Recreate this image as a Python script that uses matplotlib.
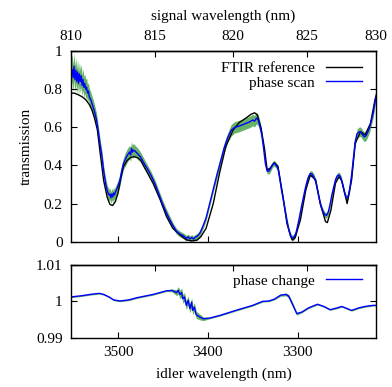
import numpy as np
import matplotlib
matplotlib.use('Agg')
import matplotlib.pyplot as plt
from matplotlib.ticker import FormatStrFormatter

plt.rcParams['font.family'] = ['Liberation Serif', 'DejaVu Serif']
plt.rcParams['font.size'] = 11

# pump wavelength (nm): 1/lp = 1/ls + 1/li
pump = 659.6

# FTIR reference (idler wavelength in nm, transmission)
ftir_idler = [3552, 3548, 3544, 3540, 3536, 3532, 3529, 3526, 3523, 3520,
              3516, 3512, 3509, 3506, 3503, 3500, 3497, 3494, 3490, 3486,
              3482, 3478, 3475, 3468, 3461, 3453, 3446, 3439, 3431, 3424,
              3418, 3412, 3408, 3402, 3394, 3387, 3380, 3372, 3365, 3358,
              3352, 3348, 3345, 3341, 3337, 3334, 3331, 3326, 3322, 3317,
              3312, 3308, 3306, 3303, 3297, 3291, 3286, 3280, 3275, 3269,
              3267, 3263, 3258, 3254, 3251, 3245, 3240, 3236, 3230, 3225,
              3219, 3214, 3212]
ftir_trans = [0.78, 0.778, 0.77, 0.76, 0.745, 0.72, 0.69, 0.645, 0.586, 0.47,
              0.32, 0.232, 0.195, 0.19, 0.21, 0.255, 0.33, 0.393, 0.425, 0.442,
              0.446, 0.44, 0.428, 0.367, 0.306, 0.219, 0.131, 0.07, 0.035, 0.01,
              0.004, 0.008, 0.025, 0.07, 0.2, 0.36, 0.5, 0.585, 0.625, 0.647,
              0.668, 0.676, 0.665, 0.6, 0.49, 0.376, 0.385, 0.414, 0.395, 0.254,
              0.096, 0.03, 0.009, 0.02, 0.114, 0.271, 0.35, 0.324, 0.2, 0.105,
              0.1, 0.166, 0.306, 0.341, 0.32, 0.2, 0.324, 0.516, 0.577, 0.56,
              0.62, 0.743, 0.78]

# phase scan (idler wavelength in nm, transmission, uncertainty)
scan_idler = [3552, 3551, 3550, 3549, 3548, 3547, 3546, 3545, 3544, 3543,
              3542, 3541, 3540, 3539, 3538, 3537, 3536, 3535, 3534, 3533,
              3532, 3530, 3528, 3526, 3524, 3522, 3520, 3518, 3516, 3514,
              3512, 3510, 3509, 3508, 3507, 3506, 3505, 3504, 3503, 3501,
              3498, 3496, 3494, 3492, 3490, 3488, 3487, 3486, 3485, 3484,
              3483, 3481, 3478, 3475, 3471, 3467, 3463, 3459, 3455, 3451,
              3447, 3443, 3439, 3435, 3431, 3427, 3424, 3422, 3420, 3418,
              3416, 3414, 3412, 3409, 3406, 3402, 3398, 3394, 3390, 3386,
              3382, 3378, 3374, 3370, 3366, 3362, 3358, 3354, 3350, 3348,
              3346, 3344, 3342, 3340, 3338, 3336, 3334, 3332, 3330, 3328,
              3326, 3324, 3322, 3320, 3318, 3316, 3314, 3312, 3310, 3308,
              3306, 3304, 3302, 3300, 3298, 3296, 3294, 3292, 3290, 3288,
              3286, 3284, 3282, 3280, 3278, 3276, 3274, 3272, 3270, 3268,
              3266, 3264, 3262, 3260, 3258, 3256, 3254, 3252, 3250, 3248,
              3246, 3244, 3242, 3240, 3238, 3236, 3234, 3232, 3230, 3228,
              3226, 3224, 3222, 3220, 3218, 3216, 3214, 3212]
scan_trans = [0.91, 0.90, 0.86, 0.92, 0.85, 0.90, 0.84, 0.89, 0.83, 0.88,
              0.84, 0.87, 0.82, 0.85, 0.81, 0.83, 0.80, 0.81, 0.78, 0.79,
              0.76, 0.74, 0.71, 0.68, 0.64, 0.58, 0.51, 0.45, 0.37, 0.31,
              0.265, 0.245, 0.25, 0.23, 0.25, 0.235, 0.255, 0.245, 0.26, 0.28,
              0.32, 0.37, 0.41, 0.43, 0.45, 0.465, 0.47, 0.455, 0.49, 0.47,
              0.48, 0.475, 0.46, 0.445, 0.41, 0.38, 0.345, 0.305, 0.255, 0.205,
              0.16, 0.12, 0.085, 0.055, 0.04, 0.03, 0.018, 0.025, 0.015, 0.022,
              0.014, 0.024, 0.028, 0.044, 0.075, 0.125, 0.2, 0.275, 0.35, 0.42,
              0.49, 0.545, 0.585, 0.6, 0.605, 0.612, 0.62, 0.627, 0.638, 0.632,
              0.648, 0.638, 0.605, 0.56, 0.49, 0.41, 0.37, 0.37, 0.385, 0.405,
              0.412, 0.40, 0.385, 0.33, 0.27, 0.22, 0.165, 0.11, 0.065, 0.032,
              0.018, 0.025, 0.045, 0.085, 0.13, 0.18, 0.225, 0.27, 0.31, 0.34,
              0.358, 0.355, 0.34, 0.315, 0.27, 0.225, 0.185, 0.16, 0.142, 0.138,
              0.155, 0.195, 0.245, 0.285, 0.324, 0.345, 0.35, 0.335, 0.3, 0.26,
              0.23, 0.235, 0.28, 0.35, 0.44, 0.525, 0.565, 0.575, 0.577, 0.562,
              0.55, 0.555, 0.575, 0.6, 0.635, 0.675, 0.735, 0.77]
scan_err = [0.07, 0.07, 0.07, 0.07, 0.07, 0.065, 0.065, 0.065, 0.06, 0.06,
            0.06, 0.06, 0.055, 0.055, 0.055, 0.05, 0.05, 0.05, 0.045, 0.045,
            0.045, 0.04, 0.04, 0.035, 0.035, 0.03, 0.03, 0.03, 0.03, 0.03,
            0.03, 0.03, 0.03, 0.03, 0.03, 0.03, 0.03, 0.03, 0.03, 0.03,
            0.03, 0.03, 0.03, 0.035, 0.035, 0.035, 0.035, 0.035, 0.035, 0.035,
            0.035, 0.03, 0.03, 0.025, 0.025, 0.02, 0.02, 0.02, 0.02, 0.02,
            0.02, 0.02, 0.015, 0.015, 0.015, 0.015, 0.015, 0.015, 0.015, 0.015,
            0.015, 0.015, 0.015, 0.015, 0.015, 0.015, 0.015, 0.015, 0.02, 0.02,
            0.025, 0.025, 0.03, 0.03, 0.03, 0.03, 0.03, 0.03, 0.03, 0.03,
            0.03, 0.03, 0.025, 0.02, 0.02, 0.015, 0.015, 0.015, 0.015, 0.015,
            0.015, 0.015, 0.015, 0.015, 0.015, 0.015, 0.015, 0.015, 0.015, 0.015,
            0.015, 0.015, 0.015, 0.015, 0.015, 0.015, 0.015, 0.015, 0.015, 0.015,
            0.015, 0.015, 0.015, 0.015, 0.015, 0.015, 0.015, 0.015, 0.015, 0.015,
            0.015, 0.015, 0.015, 0.015, 0.015, 0.015, 0.015, 0.015, 0.015, 0.015,
            0.015, 0.015, 0.015, 0.02, 0.02, 0.02, 0.025, 0.025, 0.025, 0.025,
            0.025, 0.025, 0.025, 0.025, 0.025, 0.025, 0.025, 0.025]

# phase change (idler wavelength in nm, value, uncertainty)
phase_idler = [3553, 3542, 3531, 3521, 3516, 3510, 3505, 3498, 3488, 3479,
               3461, 3446, 3440, 3435, 3433, 3431, 3429, 3428, 3426, 3424,
               3422, 3420, 3418, 3417, 3415, 3413, 3409, 3405, 3398, 3387,
               3369, 3350, 3339, 3332, 3326, 3319, 3313, 3310, 3306, 3301,
               3295, 3288, 3278, 3271, 3264, 3256, 3251, 3245, 3240, 3232,
               3225, 3216, 3212]
phase_val = [1.0012, 1.0015, 1.0019, 1.0022, 1.0019, 1.0012, 1.0004, 1.0001, 1.0004, 1.001,
             1.0019, 1.0029, 1.003, 1.0024, 1.003, 1.0019, 1.0024, 1.0007, 1.0012, 0.9989,
             1.0003, 0.998, 0.9998, 0.9975, 0.9984, 0.9963, 0.9957, 0.9952, 0.9954, 0.9961,
             0.9975, 0.9989, 1.0, 1.0001, 1.0006, 1.0017, 1.0019, 1.0014, 0.9993, 0.9966,
             0.9971, 0.9982, 0.9992, 0.9986, 0.9977, 0.9982, 0.9986, 0.998, 0.9975, 0.9982,
             0.9986, 0.9989, 0.9989]
phase_err = [0.0002, 0.0002, 0.0002, 0.0002, 0.0002, 0.0002, 0.0002, 0.0002, 0.0002, 0.0002,
             0.0002, 0.0002, 0.0004, 0.0008, 0.001, 0.0012, 0.0012, 0.0012, 0.0012, 0.0012,
             0.0012, 0.0012, 0.0012, 0.0012, 0.0012, 0.001, 0.0008, 0.0005, 0.0002, 0.0002,
             0.0002, 0.0002, 0.0002, 0.0002, 0.0002, 0.0003, 0.0004, 0.0005, 0.0006, 0.0004,
             0.0002, 0.0002, 0.0002, 0.0002, 0.0002, 0.0002, 0.0002, 0.0002, 0.0002, 0.0002,
             0.0002, 0.0002, 0.0002]

signal_ticks = [810, 815, 820, 825, 830]
idler_ticks = [3500, 3400, 3300]


def conv(w):
    # signal <-> idler wavelength (same relation both ways)
    w = np.asarray(w, dtype=float)
    with np.errstate(divide='ignore', invalid='ignore'):
        return 1.0 / (1.0 / pump - 1.0 / w)


xlo = float(conv(810))
xhi = float(conv(830))

green = '#55aa55'
fig = plt.figure(figsize=(3.92, 3.87), dpi=100)
ax1 = fig.add_axes([0.1811, 0.3755, 0.7781, 0.4927])
ax2 = fig.add_axes([0.1811, 0.1274, 0.7781, 0.1879])

# top panel
si = np.array(scan_idler)
st = np.array(scan_trans)
se = np.array(scan_err)
ax1.fill_between(si, st - se, st + se, color=green, lw=0, alpha=0.9)
ax1.plot(ftir_idler, ftir_trans, color='black', lw=1.0, label='FTIR reference')
ax1.plot(si, st, color='#0000ff', lw=1.0, label='phase scan')
ax1.set_xlim(xlo, xhi)
ax1.set_ylim(0, 1)
ax1.set_yticks([0, 0.2, 0.4, 0.6, 0.8, 1])
ax1.yaxis.set_major_formatter(FormatStrFormatter('%g'))
ax1.set_xticks(idler_ticks)
ax1.tick_params(direction='in', length=4, top=False, right=True,
                labelbottom=False, pad=6)
ax1.set_ylabel('transmission', labelpad=8)
top1 = ax1.secondary_xaxis('top', functions=(conv, conv))
top1.set_xticks(signal_ticks)
top1.tick_params(direction='in', length=4, pad=6)
top1.set_xlabel('signal wavelength (nm)', labelpad=7)
ax1.legend(loc='upper right', bbox_to_anchor=(0.955, 0.944), frameon=False,
           markerfirst=False, handlelength=2.4, handletextpad=0.7,
           labelspacing=0.05, borderpad=0, borderaxespad=0)

# bottom panel
pi = np.array(phase_idler)
pv = np.array(phase_val)
pe = np.array(phase_err)
ax2.fill_between(pi, pv - pe, pv + pe, color=green, lw=0, alpha=0.9)
ax2.plot(pi, pv, color='#0000ff', lw=1.0, label='phase change')
ax2.set_xlim(xlo, xhi)
ax2.set_ylim(0.99, 1.01)
ax2.set_yticks([0.99, 1.0, 1.01])
ax2.yaxis.set_major_formatter(FormatStrFormatter('%g'))
ax2.set_xticks(idler_ticks)
ax2.tick_params(direction='in', length=4, top=False, right=True, pad=6)
ax2.set_xlabel('idler wavelength (nm)', labelpad=6)
top2 = ax2.secondary_xaxis('top', functions=(conv, conv))
top2.set_xticks(signal_ticks)
top2.tick_params(direction='in', length=4, labeltop=False)
ax2.legend(loc='upper right', bbox_to_anchor=(0.955, 0.875), frameon=False,
           markerfirst=False, handlelength=2.4, handletextpad=0.7,
           borderpad=0, borderaxespad=0)

for ax in (ax1, ax2, top1, top2):
    for sp in ax.spines.values():
        sp.set_linewidth(1.0)

fig.savefig('out.png', dpi=100)
